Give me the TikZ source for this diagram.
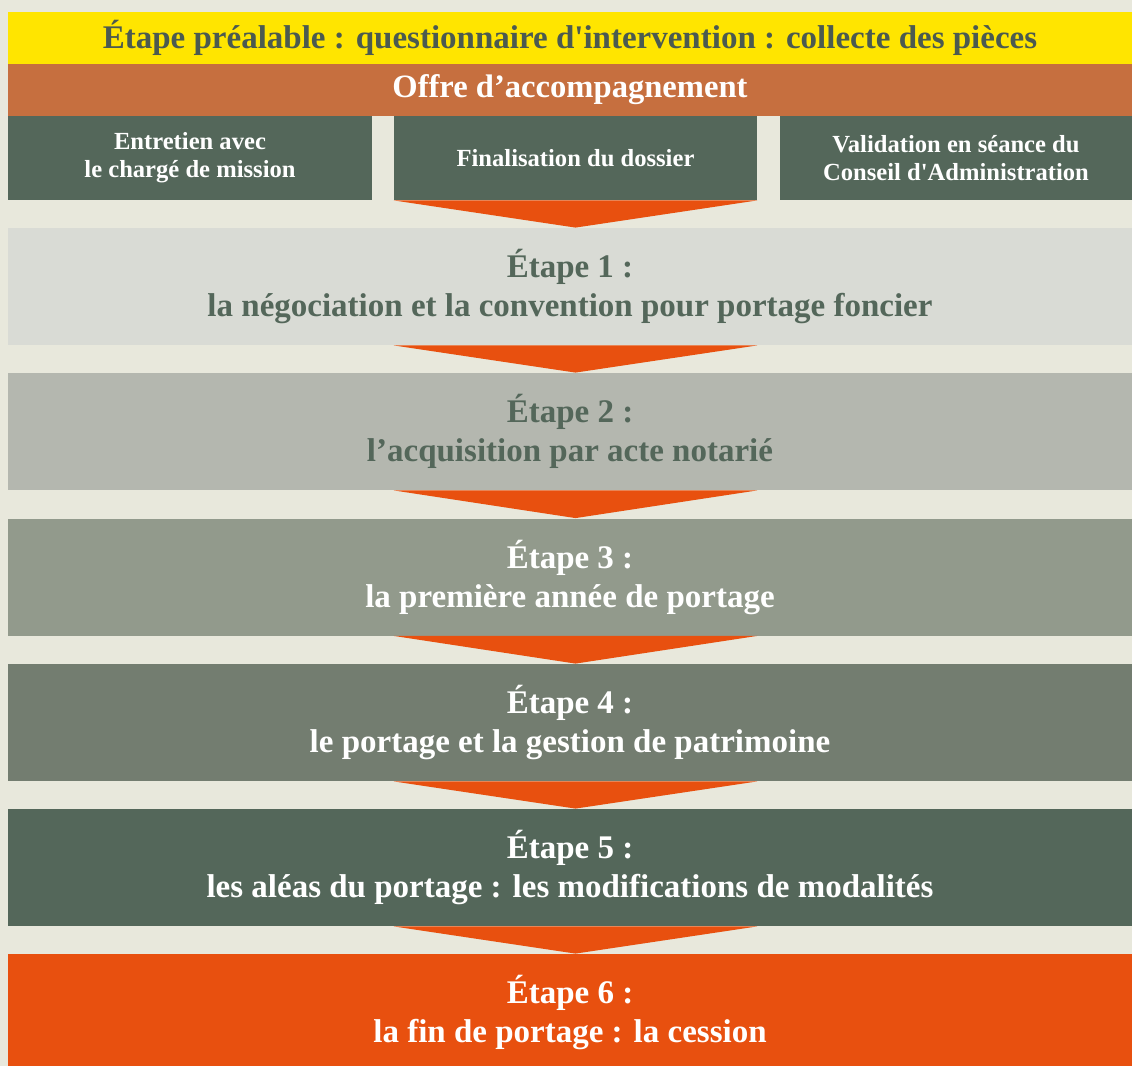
\documentclass[tikz,border=0pt]{standalone}
\usepackage{fontspec}
\setmainfont{Liberation Serif}
\usepackage{tikz}

\definecolor{fond}{HTML}{E8E8DC}
\definecolor{jaune}{HTML}{FFE500}
\definecolor{brique}{HTML}{C66F3F}
\definecolor{vertfonce}{HTML}{54675A}
\definecolor{orange}{HTML}{E8500F}
\definecolor{gris1}{HTML}{D9DBD5}
\definecolor{gris2}{HTML}{B4B7AF}
\definecolor{gris3}{HTML}{929A8C}
\definecolor{gris4}{HTML}{737D70}
\definecolor{texte}{HTML}{4B5A50}

\begin{document}
\begin{tikzpicture}[
			x=0.5pt, y=-0.5pt,
			bandeau/.style={rectangle, inner sep=0pt, minimum width=562pt, minimum height=26pt, font=\bfseries\fontsize{16.5}{19}\selectfont},
			souspas/.style={rectangle, inner sep=0pt, fill=vertfonce, text=white, minimum height=42pt, align=center, font=\bfseries\fontsize{12.3}{14}\selectfont},
			etape/.style={rectangle, inner sep=0pt, minimum width=562pt, minimum height=58.5pt, align=center, font=\bfseries\fontsize{16.5}{19.5}\selectfont},
			fleche/.style={fill=orange}
			]
			\fill[fond] (0,0) rectangle (1132,1066);
			\useasboundingbox (0,0) rectangle (1132,1066);
			\clip (0,0) rectangle (1132,1066);
			
			\node[bandeau, fill=jaune, text=texte] (pre) at (570,38) {Étape préalable : questionnaire d\textquotesingle intervention : collecte des pièces};
			\node[bandeau, fill=brique, text=white, font=\bfseries\fontsize{16.3}{19}\selectfont] (offre) at (570,90) {Offre d’accompagnement};
			
			\node[souspas, minimum width=182pt] (entretien) at (190,158) {Entretien avec\\le chargé de mission};
			\node[souspas, minimum width=181.5pt] (dossier) at (575.5,158) {Finalisation du dossier};
			\node[souspas, minimum width=176pt] (validation) at (956,158) {Validation en séance du\\Conseil d\textquotesingle Administration};
			
			\node[etape, fill=gris1, text=vertfonce] (e1) at (570,286.5) {Étape 1 :\\la négociation et la convention pour portage foncier};
			\node[etape, fill=gris2, text=vertfonce] (e2) at (570,431.5) {Étape 2 :\\l’acquisition par acte notarié};
			\node[etape, fill=gris3, text=white] (e3) at (570,577) {Étape 3 :\\la première année de portage};
			\node[etape, fill=gris4, text=white] (e4) at (570,722.5) {Étape 4 :\\le portage et la gestion de patrimoine};
			\node[etape, fill=vertfonce, text=white] (e5) at (570,867.5) {Étape 5 :\\les aléas du portage : les modifications de modalités};
			\node[etape, fill=orange, text=white] (e6) at (570,1012.5) {Étape 6 :\\la fin de portage : la cession};
			
			\fill[fleche] (dossier.south west) -- (dossier.south east) -- (dossier.south |- e1.north) -- cycle;
			\foreach \a/\b in {e1/e2, e2/e3, e3/e4, e4/e5, e5/e6}
				\fill[fleche] (dossier.west |- \a.south) -- (dossier.east |- \a.south) -- (dossier.south |- \b.north) -- cycle;
		\end{tikzpicture}
\end{document}
